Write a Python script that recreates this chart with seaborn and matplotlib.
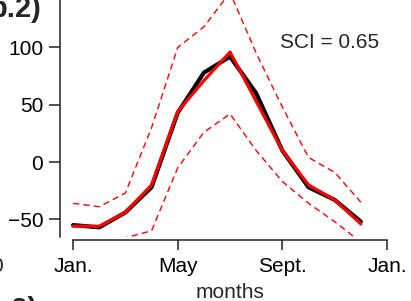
import numpy as np
import pandas as pd
import seaborn as sns
import matplotlib.pyplot as plt

# monthly cycle, Jan. = 0
month = np.arange(12)
observed = [-55, -57, -44, -22, 43, 78, 92, 60, 10, -22, -33, -52]
model = [-56, -56, -44, -20, 44, 71, 96, 53, 10, -20, -33, -54]
upper = [-36, -39, -27, 30, 100, 118, 148, 95, 48, 4, -9, -35]
lower = [-75, -78, -66, -60, -5, 26, 42, 10, -17, -36, -52, -70]
xtick_pos = [0, 4, 8, 12]
xtick_lab = ['Jan.', 'May', 'Sept.', 'Jan.']
ytick_pos = [-50, 0, 50, 100]

sns.set_style('ticks')
plt.rcParams['font.family'] = ['Liberation Sans', 'DejaVu Sans']

df = pd.DataFrame({'month': month, 'obs': observed, 'mod': model,
                   'up': upper, 'lo': lower})

fig = plt.figure(figsize=(4.11, 3.01), dpi=100)
ax = fig.add_axes([60/411, 64/301, 327/411, 237/301])

for col in ['up', 'lo']:
    sns.lineplot(data=df, x='month', y=col, ax=ax, color='#ff0000',
                 linewidth=1.0, linestyle=(0, (4.5, 3)))
sns.lineplot(data=df, x='month', y='obs', ax=ax, color='black', linewidth=3.0)
sns.lineplot(data=df, x='month', y='mod', ax=ax, color='#ff0000', linewidth=2.3)

ax.set_xlim(-0.5, 12.0)
ax.set_ylim(-65.4, 141.4)
ax.set_xticks(xtick_pos)
ax.set_xticklabels(xtick_lab)
ax.set_yticks(ytick_pos)
ax.set_ylabel('')
ax.set_xlabel('months', fontsize=15, labelpad=5.5)
ax.xaxis.label.set_x((230 - 60) / 327)

sns.despine(ax=ax)
ax.spines['bottom'].set_position(('outward', 2.2))
ax.spines['bottom'].set_bounds(0, 12)
for s in ['left', 'bottom']:
    ax.spines[s].set_linewidth(1.1)
    ax.spines[s].set_color('#222222')
ax.tick_params(axis='y', length=8, width=1.1, pad=4, labelsize=15, colors='#222222', labelcolor='black')
ax.tick_params(axis='x', length=7, width=1.1, pad=5, labelsize=15, colors='#222222', labelcolor='black')

ax.text(7.9, 104.7, 'SCI = 0.65', fontsize=15, ha='left', va='center')

# panel labels cut by the crop
fig.text(41/411, 1 - 17/301, 'b.2)', fontsize=21, fontweight='bold',
         ha='right', va='baseline')
fig.text(38/411, 1 - 296/301, 'c.2)', fontsize=21, fontweight='bold',
         ha='right', va='top')
fig.text(3/411, 1 - 266/301, '0', fontsize=15, ha='right', va='center')

fig.savefig('out.png', dpi=100)
